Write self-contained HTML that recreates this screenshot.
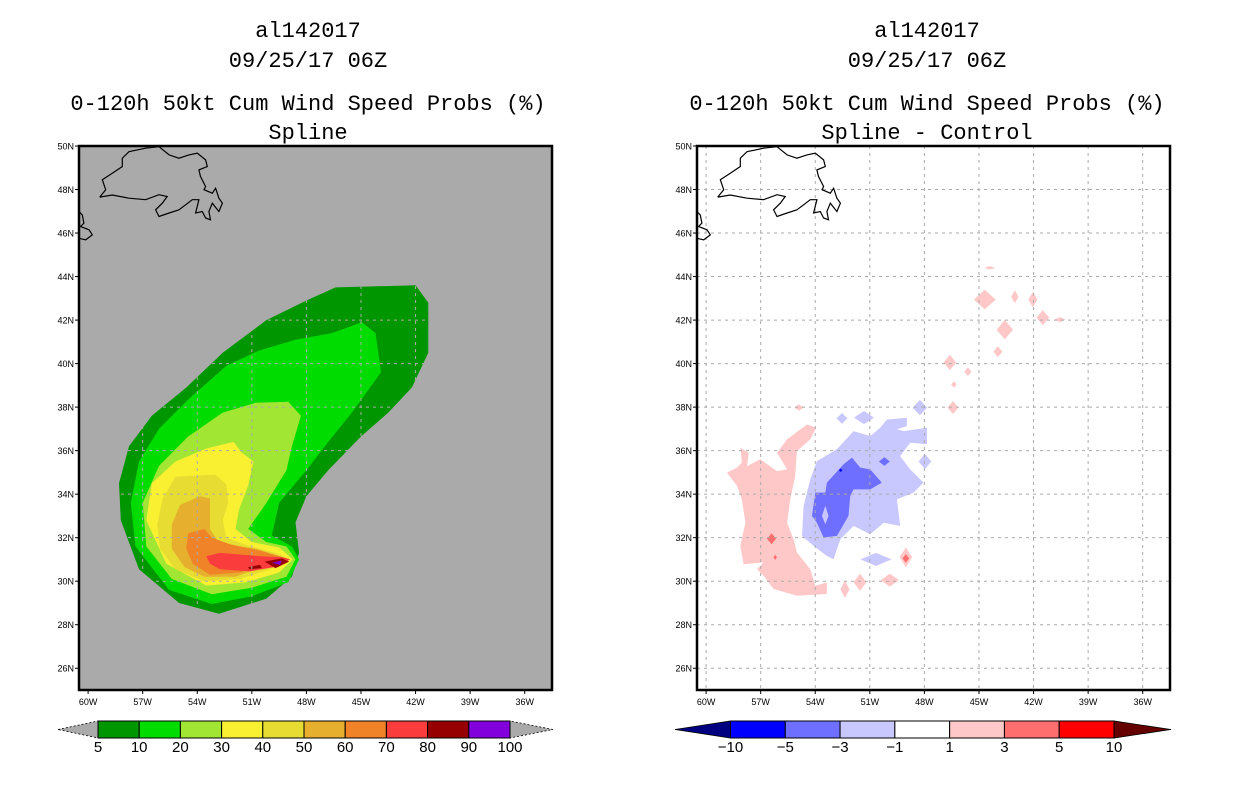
<!DOCTYPE html>
<html><head><meta charset="utf-8"><style>
html,body{margin:0;padding:0;background:#fff;width:1236px;height:800px;overflow:hidden}
svg{display:block}
.t{font-family:"Liberation Mono",monospace;font-size:22px;fill:#000}
.tk{font-family:"Liberation Sans",sans-serif;font-size:9px;fill:#000}
.cb{font-family:"Liberation Sans",sans-serif;font-size:15px;fill:#000}
</style></head><body>
<svg id="s" width="1236" height="800" xmlns="http://www.w3.org/2000/svg">
<g>
<text class="t" x="308" y="37" text-anchor="middle">al142017</text>
<text class="t" x="308" y="67" text-anchor="middle">09/25/17 06Z</text>
<text class="t" x="308" y="110" text-anchor="middle">0-120h 50kt Cum Wind Speed Probs (%)</text>
<text class="t" x="308" y="139" text-anchor="middle">Spline</text>
</g>
<g>
<text class="t" x="927" y="37" text-anchor="middle">al142017</text>
<text class="t" x="927" y="67" text-anchor="middle">09/25/17 06Z</text>
<text class="t" x="927" y="110" text-anchor="middle">0-120h 50kt Cum Wind Speed Probs (%)</text>
<text class="t" x="927" y="139" text-anchor="middle">Spline - Control</text>
</g>
</svg>
<script>
const lonTicks=[-60,-57,-54,-51,-48,-45,-42,-39,-36];
const latTicks=[26,28,30,32,34,36,38,40,42,44,46,48,50];
const probLevels=[5,10,20,30,40,50,60,70,80,90,100];
const probColors=['#009600','#00dc00','#a0e632','#faf032','#e6dc32','#e6af2d','#f08228','#fa3c3c','#960000','#8200dc'];
const diffLevels=[-10,-5,-3,-1,1,3,5,10];
const diffColors=['#0000ff','#6e6eff','#c8c8ff','#ffffff','#ffc8c8','#ff6e6e','#ff0000'];
const probBandIdx=[0,1,2,3,4,5,6,7];
const probBands=[
[[-46.4,43.5],[-42.0,43.6],[-41.3,42.8],[-41.3,40.5],[-42.2,38.9],[-43.5,37.75],[-45.0,36.65],[-46.8,35.1],[-48.0,33.9],[-48.6,32.7],[-48.4,31.3],[-48.8,30.2],[-50.2,29.2],[-52.8,28.5],[-55.0,29.0],[-57.2,30.55],[-58.2,32.8],[-58.3,34.5],[-57.75,36.2],[-56.5,37.6],[-54.6,38.9],[-52.6,40.5],[-50.2,42.0],[-48.0,42.9]],
[[-44.95,41.9],[-44.2,41.4],[-43.9,39.6],[-45.5,37.75],[-46.8,36.4],[-48.0,35.1],[-49.5,33.6],[-49.9,32.1],[-48.8,31.6],[-48.4,31.0],[-49.0,29.95],[-51.0,29.3],[-53.2,28.95],[-55.55,29.6],[-57.4,31.6],[-57.65,33.6],[-57.2,35.5],[-56.1,37.0],[-54.5,38.35],[-52.4,39.9],[-50.6,40.6],[-48.6,41.1],[-46.6,41.4]],
[[-49.0,38.25],[-48.3,37.6],[-48.8,36.2],[-49.1,35.1],[-50.2,33.6],[-51.2,32.4],[-50.2,31.8],[-49.1,31.6],[-48.6,31.0],[-49.1,30.2],[-51.0,29.7],[-53.2,29.4],[-55.4,30.1],[-56.8,31.6],[-57.0,33.6],[-56.1,35.3],[-54.5,36.65],[-52.6,37.75],[-50.8,38.2]],
[[-52.0,36.4],[-51.55,35.9],[-50.9,35.5],[-51.2,34.4],[-51.7,33.3],[-51.9,32.4],[-51.0,31.8],[-49.5,31.55],[-48.75,31.0],[-49.5,30.4],[-51.3,29.95],[-53.5,29.8],[-55.7,30.8],[-56.8,32.8],[-56.5,34.5],[-55.2,35.5],[-53.5,36.1]],
[[-55.2,34.8],[-53.0,34.9],[-52.4,34.45],[-52.3,33.6],[-52.6,32.8],[-52.4,32.0],[-51.1,31.6],[-49.7,31.3],[-48.85,31.0],[-50.0,30.55],[-51.65,30.1],[-53.6,30.0],[-55.2,30.55],[-56.05,31.5],[-56.2,32.6],[-55.9,33.8]],
[[-54.95,33.5],[-53.85,33.9],[-53.3,33.8],[-53.3,32.4],[-52.75,31.7],[-50.8,31.5],[-48.9,31.0],[-50.3,30.7],[-51.9,30.2],[-53.6,30.2],[-54.7,30.65],[-55.4,31.5],[-55.4,32.6]],
[[-54.5,32.2],[-53.6,32.4],[-53.2,32.0],[-52.2,31.7],[-50.55,31.4],[-48.9,31.0],[-50.3,30.75],[-51.65,30.4],[-53.3,30.3],[-54.25,30.8],[-54.6,31.5]],
[[-53.5,31.15],[-52.75,31.3],[-50.55,31.15],[-49.35,31.1],[-48.9,31.0],[-49.45,30.7],[-51.1,30.45],[-52.75,30.55],[-53.3,30.8]]
];
const probSpotIdx=[8,8,9];
const probSpots=[
[[-50.3,30.9],[-49.35,31.05],[-48.95,30.9],[-49.7,30.6]],
[[-51.2,30.65],[-50.55,30.75],[-50.45,30.6],[-51.15,30.55]],
[[-49.9,30.85],[-49.35,30.95],[-49.45,30.75]]
];
const diffPolyIdx=[4,2,1,2];
const diffPolys=[
[[-58.12,36.13],[-57.66,35.9],[-57.75,35.29],[-57.02,35.6],[-56.1,35.06],[-55.55,35.14],[-56.1,35.9],[-55.55,36.52],[-54.46,37.2],[-53.94,37.05],[-54.27,36.52],[-55.01,35.98],[-55.1,34.83],[-55.37,33.76],[-55.55,32.69],[-55.19,31.93],[-55.01,31.32],[-54.27,30.55],[-54.0,29.79],[-53.36,29.94],[-53.36,29.41],[-55.01,29.33],[-56.29,29.64],[-56.84,30.25],[-57.2,30.55],[-56.84,30.86],[-57.94,30.78],[-58.12,31.62],[-57.84,32.69],[-58.03,33.76],[-58.3,34.38],[-58.85,34.99],[-58.3,35.22],[-58.03,35.45]],
[[-53.91,35.52],[-52.81,36.06],[-51.89,36.9],[-50.98,36.67],[-50.43,37.05],[-50.06,37.43],[-48.96,37.51],[-48.96,37.13],[-49.51,36.98],[-49.14,36.9],[-47.86,37.05],[-47.86,36.29],[-48.78,36.36],[-49.33,35.75],[-48.78,35.14],[-48.05,34.53],[-48.6,34.07],[-49.51,33.76],[-49.33,32.54],[-50.24,32.69],[-50.98,32.16],[-51.89,32.54],[-52.62,31.93],[-52.81,31.47],[-52.99,31.01],[-53.36,31.16],[-54.09,31.62],[-54.73,32.08],[-54.64,33.46],[-54.27,34.68]],
[[-53.36,34.53],[-52.44,35.37],[-51.98,35.68],[-51.53,35.22],[-50.98,35.14],[-50.34,34.53],[-50.98,34.22],[-51.89,34.22],[-52.08,33.92],[-52.17,33.0],[-52.81,32.08],[-53.54,32.01],[-53.91,32.69],[-54.18,33.0],[-54.0,34.07],[-53.45,34.07]],
[[-53.45,33.46],[-53.27,33.0],[-53.45,32.62],[-53.63,33.0]]
];
const blobLon=[-44.68,-43.58,-43.03,-42.04,-41.49,-40.55,-44.4,-46.6,-45.61,-43.96,-46.43,-54.9,-46.38,-52.37,-51.54,-49.9,-49.02,-49.02,-48.25,-47.97,-50.66,-52.53,-51.32,-50.2,-56.4,-56.2,-52.6];
const blobLat=[42.94,41.56,43.07,42.94,42.11,42.02,44.4,40.05,39.63,40.55,37.98,37.98,39.04,29.63,29.95,30.05,31.1,31.05,37.98,35.5,31.0,37.48,37.52,35.5,31.95,31.1,35.1];
const blobRx=[0.6,0.45,0.2,0.25,0.35,0.3,0.3,0.35,0.2,0.25,0.3,0.25,0.15,0.25,0.35,0.5,0.35,0.18,0.4,0.35,0.85,0.3,0.55,0.3,0.25,0.1,0.1];
const blobRy=[0.45,0.45,0.3,0.35,0.35,0.12,0.08,0.35,0.2,0.25,0.3,0.15,0.15,0.4,0.4,0.3,0.45,0.2,0.35,0.35,0.3,0.25,0.3,0.2,0.25,0.12,0.08];
const blobIdx=[4,4,4,4,4,4,4,4,4,4,4,4,4,4,4,4,4,5,2,2,2,2,2,1,5,5,0];
const coastMain=[[-59.36,47.65],[-59.03,47.99],[-59.22,48.45],[-58.67,48.75],[-58.12,49.06],[-58.12,49.44],[-57.75,49.74],[-56.84,49.9],[-56.1,49.97],[-55.55,49.59],[-55.01,49.44],[-54.46,49.59],[-54.0,49.67],[-53.54,49.36],[-53.45,49.06],[-53.91,48.9],[-53.82,48.6],[-53.54,48.14],[-53.63,47.99],[-53.17,47.83],[-52.99,48.06],[-52.81,47.6],[-52.62,47.37],[-52.81,46.99],[-53.17,47.37],[-53.36,46.99],[-53.27,46.61],[-53.54,46.69],[-53.72,46.99],[-54.09,46.92],[-53.91,47.53],[-54.27,47.53],[-54.64,47.3],[-55.01,47.07],[-55.55,46.92],[-56.1,46.76],[-56.29,47.07],[-55.92,47.37],[-55.65,47.68],[-56.1,47.76],[-56.84,47.53],[-57.75,47.6],[-58.67,47.75],[-59.36,47.65]];
const coastNS=[[-60.5,46.99],[-60.32,46.83],[-60.23,46.45],[-60.41,46.3],[-59.95,46.15],[-59.77,45.92],[-60.13,45.69],[-60.5,45.76]];

const NS='http://www.w3.org/2000/svg';
const svg=document.getElementById('s');
const LON0=-60.5,LON1=-34.5,LAT0=25,LAT1=50,PW=473,PH=544,PY=146;
function mk(t,a,p){const e=document.createElementNS(NS,t);for(const k in a)e.setAttribute(k,a[k]);(p||svg).appendChild(e);return e;}
function makeAxes(ox){
  const x=lon=>ox+(lon-LON0)/(LON1-LON0)*PW;
  const y=lat=>PY+(LAT1-lat)/(LAT1-LAT0)*PH;
  return {x,y};
}
function pts(poly,a){return poly.map(p=>a.x(p[0]).toFixed(1)+','+a.y(p[1]).toFixed(1)).join(' ');}

function panel(ox,bg,isDiff){
  const a=makeAxes(ox);
  const g=mk('g',{});
  
  
  const clipId='c'+ox;
  const cp=mk('clipPath',{id:clipId},g);
  mk('rect',{x:ox,y:PY,width:PW,height:PH},cp);
  const bgr=mk('rect',{x:ox,y:PY,width:PW,height:PH,fill:bg},g);
  
  
  const inner=mk('g',{'clip-path':'url(#'+clipId+')'},g);
  if(!isDiff){
    probBands.forEach((poly,i)=>{
      const p=mk('polygon',{points:pts(poly,a),fill:probColors[probBandIdx[i]]},inner);
      
      
    });
    probSpots.forEach((poly,i)=>{
      const p=mk('polygon',{points:pts(poly,a),fill:probColors[probSpotIdx[i]]},inner);
      
      
    });
  } else {
    diffPolys.forEach((poly,i)=>{
      const p=mk('polygon',{points:pts(poly,a),fill:diffColors[diffPolyIdx[i]]},inner);
      
      
    });
    blobLon.forEach((lo,i)=>{
      const la=blobLat[i],rx=blobRx[i],ry=blobRy[i];
      const poly=[[lo-rx,la],[lo,la+ry],[lo+rx,la],[lo,la-ry]];
      const p=mk('polygon',{points:pts(poly,a),fill:diffColors[blobIdx[i]]},inner);
      
      
    });
  }
  const gc='#aaaaaa';
  lonTicks.forEach(l=>{
    const ln=mk('line',{x1:a.x(l),x2:a.x(l),y1:PY,y2:PY+PH,stroke:gc,'stroke-width':1,'stroke-dasharray':'3,4'},inner);
    
    
  });
  latTicks.forEach(l=>{
    const ln=mk('line',{x1:ox,x2:ox+PW,y1:a.y(l),y2:a.y(l),stroke:gc,'stroke-width':1,'stroke-dasharray':'3,4'},inner);
    
    
  });
  [coastMain,coastNS].forEach(c=>{
    const pl=mk('polyline',{points:pts(c,a),fill:'none',stroke:'#000','stroke-width':1.2},inner);
    
    
  });
  const fr=mk('rect',{x:ox,y:PY,width:PW,height:PH,fill:'none',stroke:'#000','stroke-width':2.5},g);
  
  
  lonTicks.forEach(l=>{
    mk('line',{x1:a.x(l),x2:a.x(l),y1:PY+PH,y2:PY+PH+4,stroke:'#000'},g);
    const t=mk('text',{x:a.x(l),y:PY+PH+15,'text-anchor':'middle',class:'tk'},g);
    t.textContent=(-l)+'W';
    
    
  });
  latTicks.forEach(l=>{
    mk('line',{x1:ox-4,x2:ox,y1:a.y(l),y2:a.y(l),stroke:'#000'},g);
    const t=mk('text',{x:ox-5,y:a.y(l)+3.5,'text-anchor':'end',class:'tk'},g);
    t.textContent=l+'N';
    
    
  });
}
panel(79,'#aaaaaa',false);
panel(697,'#ffffff',true);

function colorbar(x0,x1,tipL,tipR,cols,labels,leftCol,rightCol,name){
  const g=mk('g',{});
  
  
  const y0=721,y1=738,ym=(y0+y1)/2,n=cols.length,w=(x1-x0)/n;
  const tl=mk('polygon',{points:`${tipL},${ym} ${x0},${y0} ${x0},${y1}`,fill:leftCol,stroke:'#000','stroke-width':0.8,'stroke-dasharray':leftCol==='#aaaaaa'?'2,2':'none'},g);
  
  
  const tr=mk('polygon',{points:`${tipR},${ym} ${x1},${y0} ${x1},${y1}`,fill:rightCol,stroke:'#000','stroke-width':0.8,'stroke-dasharray':rightCol==='#aaaaaa'?'2,2':'none'},g);
  
  
  cols.forEach((c,i)=>{
    const r=mk('rect',{x:x0+i*w,y:y0,width:w,height:y1-y0,fill:c,stroke:'#000','stroke-width':1},g);
    
    
  });
  labels.forEach((l,i)=>{
    const t=mk('text',{x:x0+i*w,y:752,'text-anchor':'middle',class:'cb'},g);
    t.textContent=l<0?'\u2212'+(-l):String(l);
    
    
  });
}
colorbar(98,510,58,553,probColors,probLevels,'#aaaaaa','#aaaaaa','prob-colorbar');
colorbar(730.5,1114,675,1171,diffColors,diffLevels,'#000080','#640000','diff-colorbar');
</script>
</body></html>
